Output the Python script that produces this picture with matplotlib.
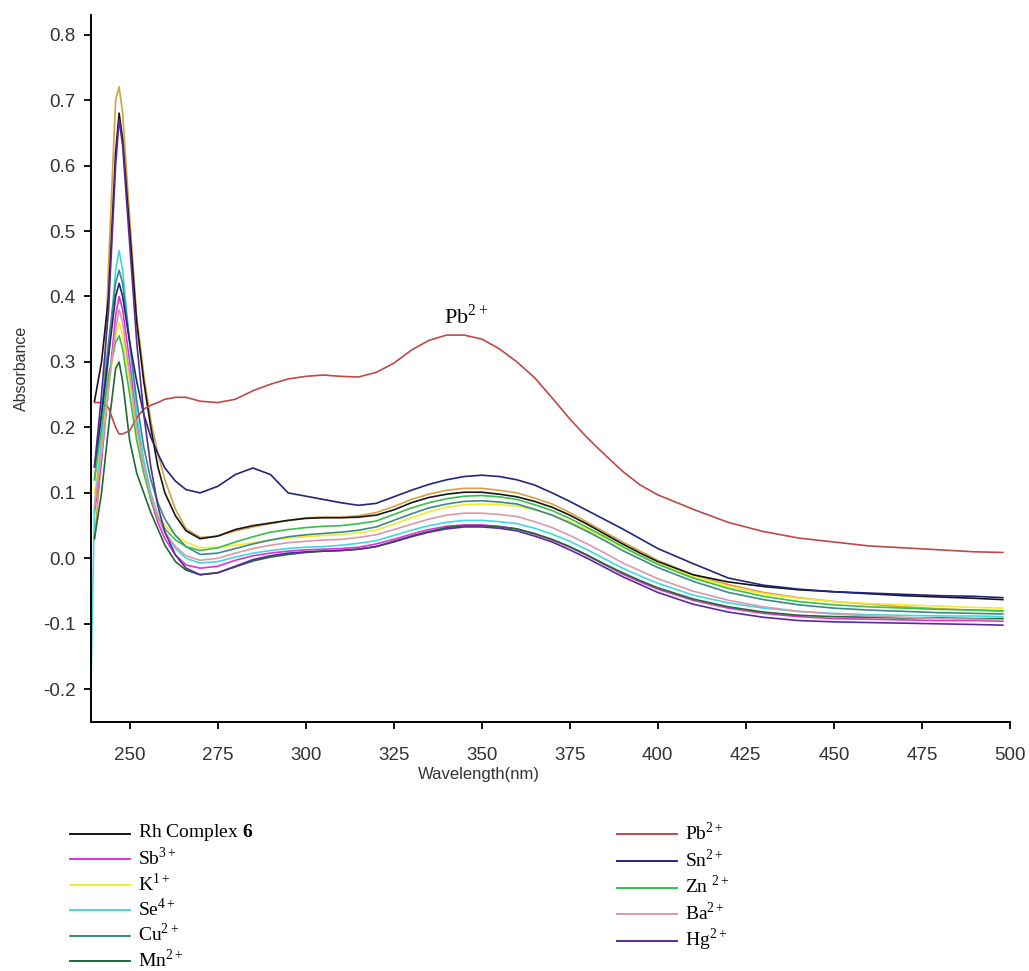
import numpy as np
import matplotlib.pyplot as plt
from matplotlib.lines import Line2D

plt.rcParams['font.family'] = 'sans-serif'
plt.rcParams['font.sans-serif'] = ['Liberation Sans']
plt.rcParams['mathtext.fontset'] = 'custom'
plt.rcParams['mathtext.rm'] = 'Liberation Serif'
plt.rcParams['mathtext.bf'] = 'Liberation Serif:bold'
plt.rcParams['axes.unicode_minus'] = False

# wavelength grid (nm) shared by every spectrum
wl = [240, 242, 244, 246, 247, 248, 250, 252, 254, 256, 258, 260, 263, 266,
      270, 275, 280, 285, 290, 295, 300,
      305, 310, 315, 320, 325, 330, 335, 340, 345, 350,
      355, 360, 365, 370, 375, 380, 385, 390, 395, 400,
      410, 420, 430, 440, 450, 460, 470, 480, 490, 498]

rh = [0.24, 0.30, 0.40, 0.62, 0.68, 0.64, 0.50, 0.36, 0.27, 0.20, 0.14, 0.10, 0.065, 0.042,
      0.030, 0.034, 0.044, 0.050, 0.054, 0.058, 0.061,
      0.062, 0.062, 0.063, 0.066, 0.074, 0.085, 0.093, 0.098, 0.101, 0.101,
      0.098, 0.094, 0.087, 0.078, 0.066, 0.052, 0.037, 0.022, 0.008, -0.005,
      -0.025, -0.036, -0.043, -0.048, -0.051, -0.054, -0.057, -0.059, -0.061, -0.063]
sb = [0.07, 0.15, 0.26, 0.37, 0.40, 0.38, 0.30, 0.21, 0.14, 0.09, 0.055, 0.030, 0.005, -0.010,
      -0.015, -0.012, -0.003, 0.004, 0.008, 0.011, 0.013,
      0.014, 0.015, 0.017, 0.022, 0.029, 0.037, 0.044, 0.049, 0.051, 0.051,
      0.049, 0.045, 0.037, 0.028, 0.017, 0.004, -0.010, -0.024, -0.036, -0.047,
      -0.064, -0.076, -0.084, -0.089, -0.092, -0.093, -0.094, -0.095, -0.095, -0.096]
k1 = [0.10, 0.18, 0.26, 0.34, 0.36, 0.34, 0.27, 0.19, 0.135, 0.095, 0.068, 0.050, 0.035, 0.025,
      0.016, 0.017, 0.020, 0.024, 0.028, 0.031, 0.033,
      0.035, 0.036, 0.039, 0.043, 0.052, 0.062, 0.071, 0.078, 0.082, 0.083,
      0.082, 0.080, 0.074, 0.066, 0.056, 0.044, 0.031, 0.017, 0.004, -0.008,
      -0.028, -0.043, -0.054, -0.061, -0.066, -0.069, -0.071, -0.073, -0.075, -0.076]
se = [0.08, 0.18, 0.31, 0.44, 0.47, 0.44, 0.33, 0.22, 0.15, 0.10, 0.065, 0.040, 0.015, 0.000,
      -0.007, -0.005, 0.002, 0.008, 0.012, 0.015, 0.017,
      0.018, 0.020, 0.023, 0.027, 0.035, 0.043, 0.050, 0.055, 0.058, 0.058,
      0.056, 0.053, 0.046, 0.037, 0.026, 0.013, -0.001, -0.015, -0.027, -0.038,
      -0.056, -0.068, -0.076, -0.081, -0.084, -0.086, -0.087, -0.088, -0.088, -0.089]
cu = [0.12, 0.22, 0.33, 0.42, 0.44, 0.42, 0.33, 0.24, 0.17, 0.12, 0.085, 0.060, 0.035, 0.018,
      0.006, 0.008, 0.015, 0.022, 0.028, 0.033, 0.036,
      0.038, 0.040, 0.043, 0.048, 0.058, 0.068, 0.077, 0.083, 0.087, 0.088,
      0.086, 0.083, 0.075, 0.066, 0.054, 0.041, 0.027, 0.012, -0.001, -0.014,
      -0.035, -0.052, -0.063, -0.071, -0.076, -0.079, -0.081, -0.083, -0.084, -0.085]
mn = [0.03, 0.10, 0.20, 0.29, 0.30, 0.27, 0.18, 0.13, 0.10, 0.07, 0.045, 0.020, -0.005, -0.018,
      -0.025, -0.022, -0.013, -0.004, 0.002, 0.006, 0.009,
      0.011, 0.012, 0.014, 0.018, 0.026, 0.034, 0.041, 0.047, 0.050, 0.050,
      0.048, 0.045, 0.038, 0.029, 0.018, 0.005, -0.009, -0.022, -0.034, -0.045,
      -0.062, -0.074, -0.082, -0.087, -0.089, -0.090, -0.091, -0.091, -0.092, -0.092]
pb = [0.238, 0.238, 0.230, 0.200, 0.190, 0.190, 0.195, 0.215, 0.228, 0.234, 0.238, 0.243, 0.246, 0.246,
      0.240, 0.238, 0.243, 0.256, 0.266, 0.274, 0.278,
      0.280, 0.278, 0.277, 0.284, 0.298, 0.318, 0.333, 0.341, 0.341, 0.335,
      0.320, 0.300, 0.276, 0.245, 0.213, 0.184, 0.158, 0.133, 0.112, 0.097,
      0.075, 0.055, 0.041, 0.031, 0.025, 0.019, 0.016, 0.013, 0.010, 0.009]
sn = [0.14, 0.22, 0.31, 0.40, 0.42, 0.40, 0.33, 0.27, 0.22, 0.185, 0.160, 0.138, 0.118, 0.105,
      0.100, 0.110, 0.128, 0.138, 0.128, 0.100, 0.095,
      0.090, 0.085, 0.081, 0.084, 0.094, 0.104, 0.113, 0.120, 0.125, 0.127,
      0.125, 0.120, 0.112, 0.100, 0.087, 0.073, 0.059, 0.045, 0.030, 0.015,
      -0.008, -0.030, -0.041, -0.047, -0.051, -0.053, -0.055, -0.057, -0.058, -0.060]
zn = [0.12, 0.20, 0.28, 0.33, 0.34, 0.32, 0.25, 0.18, 0.13, 0.09, 0.062, 0.045, 0.028, 0.018,
      0.012, 0.016, 0.025, 0.033, 0.040, 0.044, 0.047,
      0.049, 0.050, 0.053, 0.057, 0.067, 0.077, 0.085, 0.091, 0.095, 0.096,
      0.094, 0.090, 0.082, 0.073, 0.061, 0.047, 0.033, 0.018, 0.004, -0.009,
      -0.030, -0.046, -0.058, -0.066, -0.071, -0.074, -0.076, -0.078, -0.079, -0.080]
ba = [0.08, 0.16, 0.26, 0.35, 0.38, 0.36, 0.28, 0.20, 0.14, 0.095, 0.062, 0.040, 0.018, 0.004,
      -0.003, 0.000, 0.008, 0.015, 0.020, 0.024, 0.026,
      0.028, 0.029, 0.032, 0.036, 0.044, 0.052, 0.060, 0.066, 0.069, 0.069,
      0.067, 0.064, 0.056, 0.047, 0.035, 0.022, 0.008, -0.007, -0.019, -0.031,
      -0.050, -0.064, -0.074, -0.081, -0.085, -0.088, -0.090, -0.092, -0.093, -0.094]
hg = [0.14, 0.25, 0.38, 0.60, 0.67, 0.63, 0.48, 0.33, 0.22, 0.14, 0.08, 0.04, 0.005, -0.015,
      -0.025, -0.022, -0.012, -0.002, 0.004, 0.008, 0.010,
      0.011, 0.012, 0.014, 0.018, 0.025, 0.033, 0.040, 0.045, 0.048, 0.048,
      0.046, 0.042, 0.034, 0.025, 0.013, 0.000, -0.014, -0.028, -0.040, -0.052,
      -0.070, -0.082, -0.090, -0.095, -0.097, -0.098, -0.099, -0.100, -0.101, -0.102]
# extra trace with no legend entry
extra = [0.03, 0.15, 0.45, 0.70, 0.72, 0.68, 0.52, 0.37, 0.28, 0.21, 0.16, 0.12, 0.075, 0.045,
         0.032, 0.034, 0.042, 0.048, 0.053, 0.058, 0.062,
         0.063, 0.063, 0.065, 0.070, 0.079, 0.090, 0.098, 0.104, 0.107, 0.107,
         0.104, 0.100, 0.092, 0.083, 0.070, 0.055, 0.040, 0.025, 0.011, -0.003,
         -0.025, -0.040, -0.052, -0.060, -0.066, -0.070, -0.074, -0.077, -0.079, -0.081]

# Se trace starts with a steep rise right at the axis
se_lead_wl = [239.1, 239.4]
se_lead = [-0.17, -0.08]

left_names = [r'Rh Complex $\mathbf{6}$', r'Sb$^{3+}$', r'K$^{1+}$', r'Se$^{4+}$', r'Cu$^{2+}$', r'Mn$^{2+}$']
right_names = [r'Pb$^{2+}$', r'Sn$^{2+}$', r'Zn $^{2+}$', r'Ba$^{2+}$', r'Hg$^{2+}$']

left_data = [rh, sb, k1, se, cu, mn]
right_data = [pb, sn, zn, ba, hg]
left_colors = ['#151515', '#e030d8', '#f0ec30', '#40d8e0', '#3a8a88', '#1e6a30']
right_colors = ['#c04848', '#22257a', '#38c048', '#d89aa8', '#5a2a9a']

fig = plt.figure(figsize=(10.29, 9.71), dpi=100)
ax = fig.add_axes([0.0884, 0.2564, 0.893, 0.7282])

ax.plot(wl, extra, color='#d8a040', lw=1.2)
for y, c in zip(left_data + right_data, left_colors + right_colors):
    if y is se:
        ax.plot(se_lead_wl + wl, se_lead + y, color=c, lw=1.2)
    else:
        ax.plot(wl, y, color=c, lw=1.2)

ax.set_xlim(239, 500)
ax.set_ylim(-0.25, 0.83)
ax.set_xticks(np.arange(250, 501, 25))
ax.set_yticks(np.arange(-0.2, 0.81, 0.1))
ax.yaxis.set_major_formatter(plt.FormatStrFormatter('%.1f'))

for side in ['top', 'right']:
    ax.spines[side].set_visible(False)
for side in ['left', 'bottom']:
    ax.spines[side].set_linewidth(1.4)
ax.tick_params(direction='out', length=5, width=1.3, labelsize=13.5, labelcolor='#333333')
ax.tick_params(axis='x', pad=13)
ax.tick_params(axis='y', pad=6)

ax.set_xlabel('Wavelength(nm)', fontsize=12, color='#333333')
ax.xaxis.set_label_coords(0.422, -0.064)
ax.set_ylabel('Absorbance', fontsize=11.5, color='#333333', labelpad=10)

ax.text(345.5, 0.37, r'Pb$^{2+}$', fontsize=16, ha='center', va='center',
        family='Liberation Serif')

# legend drawn below the axes in two columns (figure pixel positions)
W, H = 1029, 971
def legend_column(names, colors, x0, x1, xt, y0, dy):
    for i, (n, c) in enumerate(zip(names, colors)):
        y = y0 + i * dy
        fig.add_artist(Line2D([x0 / W, x1 / W], [1 - y / H, 1 - y / H], color=c, lw=1.4))
        fig.text(xt / W, 1 - (y - 2) / H, n, fontsize=14, ha='left', va='center',
                 family='Liberation Serif')

legend_column(left_names, left_colors, 70, 130, 138, 834, 25.4)
legend_column(right_names, right_colors, 617, 677, 685, 834, 26.8)

fig.savefig('out.png', dpi=100)
